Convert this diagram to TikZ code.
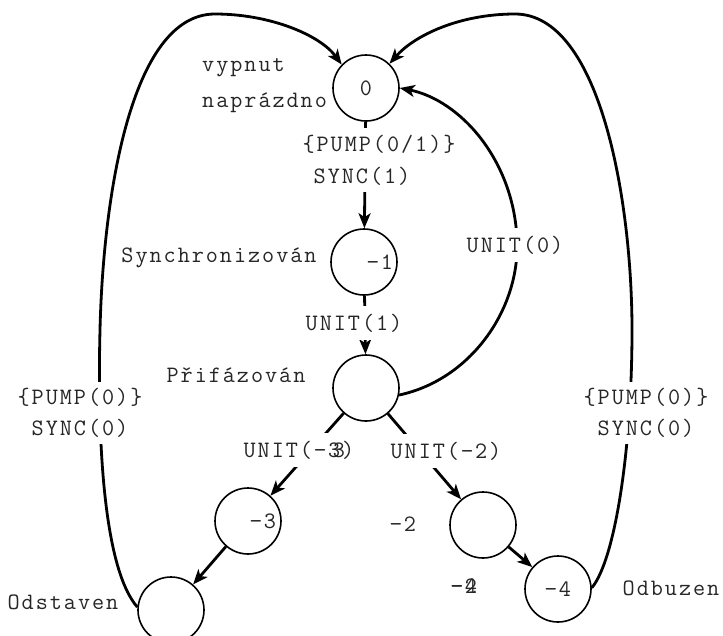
\documentclass[tikz,border=0pt]{standalone}
\usepackage{fontspec}
\usetikzlibrary{arrows.meta}
\newfontfamily\monofam{Latin Modern Mono}[LetterSpace=8.4]
\newcommand{\monotxt}{\monofam\fontsize{23.5}{28}\selectfont}
\begin{document}
\begin{tikzpicture}[x=1pt,y=-1pt,
  state/.style={circle,draw,line width=1.6pt,minimum size=66pt,inner sep=0pt,text=black!85,font=\monotxt},
  txt/.style={text=black!85,font=\monotxt,inner sep=0pt},
  lbl/.style={txt,fill=white,minimum height=34pt,inner xsep=1pt},
  edge/.style={line width=2.8pt,-{Stealth[length=15pt,width=12pt,inset=4pt]}},
]
\useasboundingbox (0,0) rectangle (723,635);
% states
\node[state] (n0) at (366,88) {0};
\node[state] (n1) at (364,262) {};
\node[state] (n2) at (366,388) {};
\node[state] (n3) at (248,521) {};
\node[state] (n4) at (483,525) {};
\node[state] (n5) at (558,589) {−4};
\node[state] (n6) at (171,610) {};
% texts at / inside states
\node[txt] (t1) at (380,262) {−1};
\node[txt] (t3) at (263,521) {−3};
\node[txt,anchor=west] (tv) at (202,68) {vypnut};
\node[txt,anchor=west] (tn) at (202,103) {naprázdno};
\node[txt] (ts) at (219,258) {Synchronizován};
\node[txt] (tp) at (236,375) {Přifázován};
\node[txt] (to) at (63,602) {Odstaven};
\node[txt] (tb) at (671,588) {Odbuzen};
\node[txt] (t2) at (403,524) {−2};
\node[txt] (t2b) at (464,586) {−2};
\node[txt] (t4b) at (464,586) {−4};
% connectors
\draw[edge] (n0) -- (n1);
\draw[edge] (n1) -- (n2);
\draw[edge] (n2) -- (n3);
\draw[edge] (n2) -- (n4);
\draw[edge] (n3) -- (n6);
\draw[edge] (n4) -- (n5);
\draw[edge] (n2.-12) .. controls (470,380) and (520,310) .. (517,240)
  .. controls (514,160) and (460,100) .. (n0.east);
\draw[edge] (n6.175) .. controls (105,570) and (97,450) .. (100,330)
  .. controls (103,200) and (130,14) .. (215,14)
  .. controls (270,14) and (320,35) .. (n0.136);
\draw[edge] (n5.2) .. controls (615,560) and (632,450) .. (632,330)
  .. controls (632,200) and (600,14) .. (515,14)
  .. controls (460,14) and (415,35) .. (n0.46);
% connector labels
\node[lbl,minimum height=32pt] (l01a) at (379,144) {\{PUMP(0/1)\}};
\node[lbl,minimum height=32pt] (l01b) at (362,176) {SYNC(1)};
\node[lbl] (l12) at (354,323) {UNIT(1)};
\node[lbl] (l20) at (515,245) {UNIT(0)};
\node[lbl] (l23) at (299,450) {UNIT(−3)};
\node[txt] (l23b) at (339,450) {\vphantom{()}3};
\node[lbl] (l24) at (446,451) {UNIT(−2)};
\node[lbl,minimum height=31pt] (lla) at (80,397) {\{PUMP(0)\}};
\node[lbl,minimum height=31pt] (llb) at (80,428) {SYNC(0)};
\node[lbl,minimum height=31pt] (lra) at (646,397) {\{PUMP(0)\}};
\node[lbl,minimum height=31pt] (lrb) at (646,428) {SYNC(0)};
\end{tikzpicture}
\end{document}
